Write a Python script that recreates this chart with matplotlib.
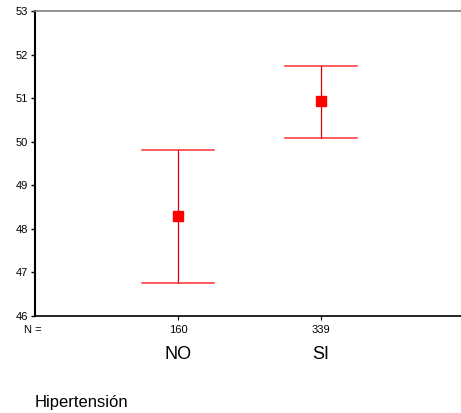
import matplotlib
matplotlib.use("Agg")
import matplotlib.pyplot as plt

categories = ["NO", "SI"]
counts = ["160", "339"]
means = [48.29, 50.93]
upper = [49.81, 51.74]
lower = [46.76, 50.09]
yticks = [46, 47, 48, 49, 50, 51, 52, 53]
xlabel = "Hipertensión"

plt.rcParams['font.family'] = ['Liberation Sans', 'DejaVu Sans']

fig = plt.figure(figsize=(4.61, 4.13), dpi=100)
ax = fig.add_axes([35/461, 1-316/413, 1-35/461, (316-11)/413])

xs = [1, 2]
for x, m, u, l in zip(xs, means, upper, lower):
    ax.plot([x, x], [l, u], color='#d00000', lw=0.9, zorder=2)
    ax.plot([x-0.25, x+0.25], [u, u], color='#ff3030', lw=1.1, zorder=2)
    ax.plot([x-0.25, x+0.25], [l, l], color='#ff3030', lw=1.1, zorder=2)
ax.plot(xs, means, 's', color='red', markersize=6.5, linestyle='none', zorder=3)

ax.set_xlim(0, 2.98)
ax.set_ylim(46, 53)
ax.set_yticks(yticks)
ax.set_yticklabels([str(t) for t in yticks], fontsize=8)
ax.tick_params(axis='y', direction='out', length=3, width=1, pad=2)
ax.set_xticks(xs)
ax.set_xticklabels([])
ax.tick_params(axis='x', direction='out', length=3, width=0.8)

ax.spines['left'].set_linewidth(1.5)
ax.spines['bottom'].set_linewidth(1.2)
ax.spines['top'].set_color('#808080')
ax.spines['top'].set_linewidth(1.2)
ax.spines['right'].set_visible(False)

trans = ax.get_xaxis_transform()
fig.text(24/461, 1-330/413, "N =", ha='left', va='center', fontsize=8)
for x, c, cat in zip(xs, counts, categories):
    ax.text(x, -0.047, c, transform=trans, ha='center', va='center', fontsize=8)
    ax.text(x, -0.125, cat, transform=trans, ha='center', va='center', fontsize=13)

fig.text(35/461, 1-402/413, xlabel, ha='left', va='center', fontsize=12)

fig.savefig("out.png", dpi=100)
